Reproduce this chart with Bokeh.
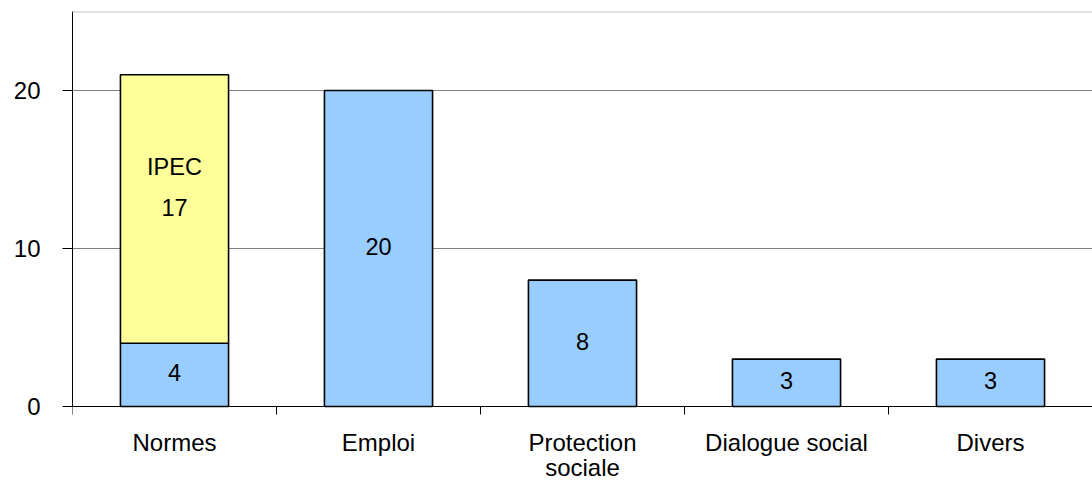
from bokeh.plotting import figure
from bokeh.models import Range1d, FixedTicker, Span, ColumnDataSource
from bokeh.core.properties import value
from bokeh.embed import file_html
from bokeh.resources import INLINE

categories = ["Normes", "Emploi", "Protection\nsociale", "Dialogue social", "Divers"]
base_values = [4, 20, 8, 3, 3]
ipec_values = [17, 0, 0, 0, 0]
ipec_label = "IPEC"
y_ticks = [0, 10, 20]
y_max = 25

FONT = "Liberation Sans"
FS = "24px"
FS_VAL = "23.5px"
BLUE = "#99CCFF"
YELLOW = "#FFFF99"

# layout (pixels)
W, H = 1092, 481
TOP, LEFT, AXIS_PX = 11, 72, 406
PPU = (AXIS_PX - TOP) / y_max           # pixels per data unit
y_min = -(H - AXIS_PX) / PPU            # extend frame below the axis for labels
TICK_LEN = 8 / PPU
LABEL_GAP = 22 / PPU
VAL_SHIFT = 2 / PPU

n = len(categories)
xs = [i + 0.5 for i in range(n)]

p = figure(width=W, height=H, output_backend="svg", toolbar_location=None,
           x_range=Range1d(0, n), y_range=Range1d(y_min, y_max),
           min_border_left=LEFT, min_border_right=0, min_border_top=TOP, min_border_bottom=0)
p.outline_line_color = None
p.background_fill_color = "white"
p.border_fill_color = "white"
p.xaxis.visible = False

# grid
p.xgrid.visible = False
p.ygrid.ticker = FixedTicker(ticks=[10, 20])
p.ygrid.grid_line_color = "#808080"
p.ygrid.grid_line_width = 1.2
p.add_layout(Span(location=y_max, dimension="width", line_color="#c8c8c8", line_width=2))

# bars
base_src = ColumnDataSource(dict(x=xs, top=base_values, lab=[str(v) for v in base_values],
                                 mid=[v / 2 + VAL_SHIFT for v in base_values]))
p.vbar(x="x", top="top", bottom=0, width=0.53, source=base_src,
       fill_color=BLUE, line_color="black", line_width=1.6)

ix = [xs[i] for i in range(n) if ipec_values[i] > 0]
ib = [base_values[i] for i in range(n) if ipec_values[i] > 0]
it = [base_values[i] + ipec_values[i] for i in range(n) if ipec_values[i] > 0]
iv = [ipec_values[i] for i in range(n) if ipec_values[i] > 0]
ipec_src = ColumnDataSource(dict(x=ix, bottom=ib, top=it, lab=[str(v) for v in iv],
                                 mid=[b + v / 2 + VAL_SHIFT for b, v in zip(ib, iv)],
                                 name_y=[b + v / 2 + VAL_SHIFT + 40 / PPU for b, v in zip(ib, iv)],
                                 name=[ipec_label] * len(ix)))
p.vbar(x="x", top="top", bottom="bottom", width=0.53, source=ipec_src,
       fill_color=YELLOW, line_color="black", line_width=1.6)

# value labels
for ycol, tcol, src in (("mid", "lab", base_src), ("mid", "lab", ipec_src), ("name_y", "name", ipec_src)):
    p.text(x="x", y=ycol, text=tcol, source=src, text_align="center",
           text_baseline="middle", text_font=value(FONT), text_font_size=FS_VAL, text_color="black")

# category axis drawn in the frame: line, boundary ticks, labels
p.add_layout(Span(location=0, dimension="width", line_color="black", line_width=1))
bounds = list(range(n + 1))
p.segment(x0=bounds, y0=[0] * (n + 1), x1=bounds, y1=[-TICK_LEN] * (n + 1),
          line_color="black", line_width=1)
cat_src = ColumnDataSource(dict(x=xs, y=[-LABEL_GAP] * n, text=categories))
p.text(x="x", y="y", text="text", source=cat_src, text_align="center",
       text_baseline="top", text_font=value(FONT), text_font_size=FS,
       text_color="black", text_line_height=0.95)

# y axis
ya = p.yaxis[0]
ya.bounds = (0, y_max)
ya.ticker = FixedTicker(ticks=y_ticks)
ya.major_tick_out = 10
ya.major_tick_in = 0
ya.minor_tick_out = 0
ya.minor_tick_in = 0
ya.major_tick_line_color = "black"
ya.axis_line_color = "black"
ya.major_label_standoff = 22
ya.major_label_text_font = FONT
ya.major_label_text_font_size = FS
ya.major_label_text_color = "black"

open("out.html", "w").write(file_html(p, INLINE))
